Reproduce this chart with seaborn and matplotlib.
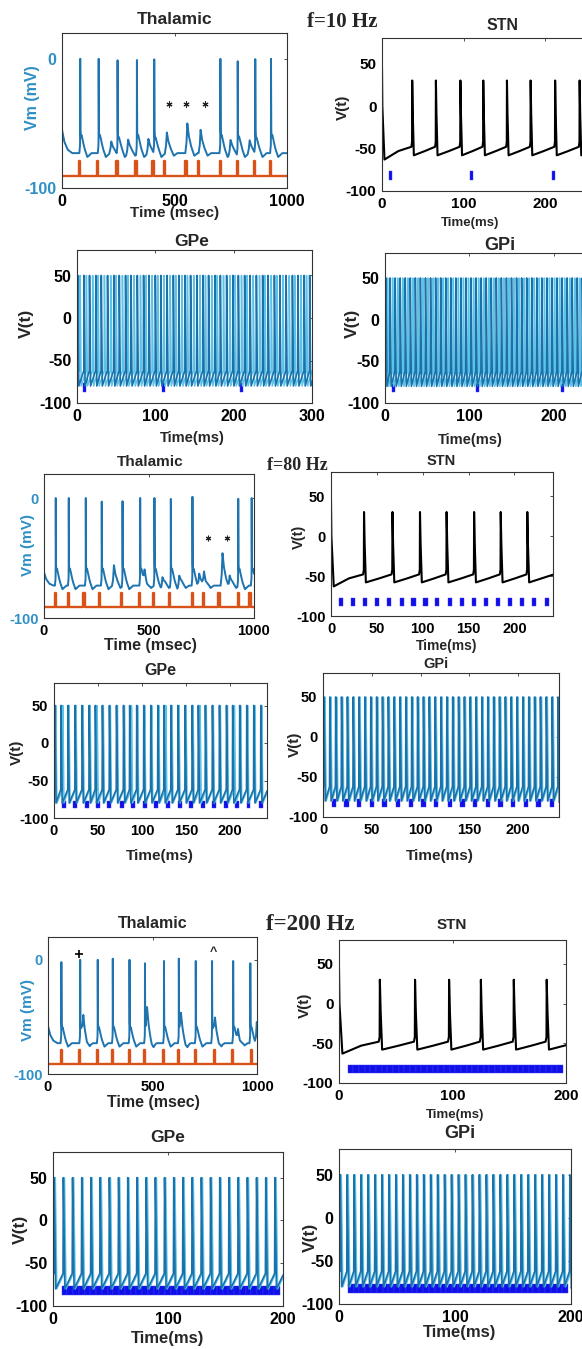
import numpy as np
import matplotlib
matplotlib.use("Agg")
import matplotlib.pyplot as plt
import seaborn as sns

# ---------------- DATA ----------------
# f = 10 Hz
thal10_spike_t = [81, 163, 247, 333, 410, 704, 781, 859, 929]
thal10_spike_v = [0, 0, 0, 0, 0, 0, 0, 0, 0]
thal10_bump_t = [215, 290, 380, 462, 553, 612, 745, 830]
thal10_bump_v = [-64, -62, -62, -57, -50, -55, -62, -63]
thal10_pulse_t = [77, 159, 244, 329, 404, 456, 551, 607, 704, 781, 856, 926]
thal10_star_t = [474, 550, 636]
stn10_spike_t = [37, 66, 96, 124, 153, 182, 212, 242, 271]
stim10_t = [10, 110, 210]
gpe10_spike_a = [1, 9, 16, 24, 31, 39, 47, 54, 62, 69, 77, 85, 92, 100, 107, 115, 123, 130, 138,
                 145, 153, 161, 168, 176, 183, 191, 199, 206, 214, 221, 229, 237, 244, 252, 259,
                 267, 275, 282, 290, 297]
gpe10_spike_b = [4, 12, 20, 27, 35, 43, 50, 58, 65, 73, 81, 88, 96, 103, 111, 119, 126, 134, 141,
                 149, 157, 164, 172, 179, 187, 195, 202, 210, 217, 225, 233, 240, 248, 255, 263,
                 271, 278, 286, 293]
gpi10_spike_a = [1, 6, 12, 18, 24, 30, 36, 42, 48, 54, 60, 66, 72, 78, 84, 90, 96, 102, 108, 114,
                 120, 126, 132, 138, 144, 150, 156, 162, 168, 174, 180, 186, 192, 198, 204, 210,
                 216, 222, 228, 234, 240, 246, 252]
gpi10_spike_b = [3, 9, 15, 21, 27, 33, 39, 45, 51, 57, 63, 69, 75, 81, 87, 93, 99, 105, 111, 117,
                 123, 129, 135, 141, 147, 153, 159, 165, 171, 177, 183, 189, 195, 201, 207, 213,
                 219, 225, 231, 237, 243, 249]

# f = 80 Hz
thal80_spike_t = [56, 118, 199, 275, 374, 458, 526, 604, 707, 925, 989]
thal80_spike_v = [0, 0, 0, -3, -2, 0, 0, 0, 1, 0, 0]
thal80_bump_t = [329, 475, 560, 640, 735, 758, 846, 880]
thal80_bump_v = [-56, -62, -64, -63, -60, -62, -46, -63]
thal80_pulse_t = [56, 118, 191, 266, 369, 456, 523, 599, 707, 758, 833, 925, 981]
thal80_star_t = [782, 870]
stn80_spike_t = [36, 67, 97, 126, 156, 185, 214]
stim80_t = [11, 24, 37, 50, 63, 77, 90, 103, 116, 130, 143, 156, 169, 182, 195, 208, 221, 235]
gpe80_spike_a = [1, 8, 16, 24, 32, 40, 47, 55, 63, 71, 79, 86, 94, 102, 110, 118, 125, 133, 141,
                 149, 157, 164, 172, 180, 188, 196, 203, 211, 219, 227, 235]
gpe80_spike_b = [2, 10, 17, 25, 33, 41, 49, 56, 64, 72, 80, 88, 95, 103, 111, 119, 127, 134, 142,
                 150, 158, 166, 173, 181, 189, 197, 205, 212, 220, 228, 236]
gpi80_spike_a = [1, 7, 13, 19, 25, 31, 37, 43, 49, 55, 61, 67, 73, 79, 85, 91, 97, 103, 109, 115,
                 121, 127, 133, 139, 145, 151, 157, 163, 169, 175, 181, 187, 193, 199, 205, 211,
                 217, 223, 229, 235, 241]
gpi80_spike_b = [2, 8, 14, 20, 26, 32, 38, 44, 50, 56, 62, 68, 74, 80, 86, 92, 98, 104, 110, 116,
                 122, 128, 134, 140, 146, 152, 158, 164, 170, 176, 182, 188, 194, 200, 206, 212,
                 218, 224, 230, 236]

# f = 200 Hz
thal200_spike_t = [64, 154, 238, 310, 390, 464, 555, 626, 707, 785, 886, 968]
thal200_spike_v = [-2, 0, 0, 1, 0, -3, -1, 1, -1, -1, -1, -3]
thal200_bump_t = [165, 470, 632, 795, 905, 995]
thal200_bump_v = [-55, -52, -57, -58, -62, -52]
thal200_pulse_t = [64, 150, 238, 310, 390, 461, 552, 626, 707, 798, 881, 973]
thal200_plus = (150, 5)
thal200_caret = (790, 7)
stn200_spike_t = [36, 67, 97, 125, 154, 183]
stim200_t = [10, 15, 20, 25, 30, 35, 40, 45, 50, 55, 60, 65, 70, 75, 80, 85, 90, 95, 100, 105,
             110, 115, 120, 125, 130, 135, 140, 145, 150, 155, 160, 165, 170, 175, 180, 185, 190,
             195]
gpe200_spike_a = [1, 9, 17, 25, 33, 41, 49, 57, 65, 73, 81, 89, 97, 105, 113, 121, 129, 137, 145,
                  153, 161, 169, 177, 185, 193]
gpe200_spike_b = [2, 10, 18, 26, 34, 42, 50, 58, 66, 74, 82, 90, 98, 106, 114, 122, 130, 138, 146,
                  154, 162, 170, 178, 186, 194]
gpi200_spike_a = [1, 7, 13, 19, 25, 31, 37, 43, 49, 55, 61, 67, 73, 79, 85, 91, 97, 103, 109, 115,
                  121, 127, 133, 139, 145, 151, 157, 163, 169, 175, 181, 187, 193, 199]
gpi200_spike_b = [2, 8, 14, 20, 26, 32, 38, 44, 50, 56, 62, 68, 74, 80, 86, 92, 98, 104, 110, 116,
                  122, 128, 134, 140, 146, 152, 158, 164, 170, 176, 182, 188, 194]

freq_labels = ["f=10 Hz", "f=80 Hz", "f=200 Hz"]

# ---------------- STYLE ----------------
sns.set_style("white")
plt.rcParams["font.family"] = ["Liberation Sans", "DejaVu Sans"]
plt.rcParams["font.weight"] = "bold"
plt.rcParams["axes.labelweight"] = "bold"
plt.rcParams["axes.titleweight"] = "bold"

W, H = 582, 1349
fig = plt.figure(figsize=(W / 100, H / 100), dpi=100)
fig.patch.set_facecolor("white")

TH_BLUE = "#1f74b0"
TH_LABEL = "#2f90c6"
ORANGE = "#D95319"
GP_DARK = "#1b72aa"
GP_LIGHT = "#59c3ea"
STIM = "#1010e6"


def add_ax(l, r, t, b):
    return fig.add_axes([l / W, 1 - b / H, (r - l) / W, (b - t) / H])


def ftext(x, y, s, **kw):
    fig.text(x / W, 1 - y / H, s, ha="center", va="center", **kw)


def style_ax(ax, xlim, ylim, xticks, yticks, ycolor="black", fs=10.5):
    ax.set_xlim(*xlim)
    ax.set_ylim(*ylim)
    ax.set_xticks(xticks)
    ax.set_yticks(yticks)
    ax.set_xticklabels([str(v) for v in xticks])
    ax.set_yticklabels([str(v) for v in yticks])
    ax.tick_params(direction="in", length=2.5, width=0.6, top=True, right=True,
                   labelsize=fs, pad=4, colors="#333333")
    ax.tick_params(axis="x", labelcolor="black")
    ax.tick_params(axis="y", labelcolor=ycolor)
    for sp in ax.spines.values():
        sp.set_color("#333333")
        sp.set_linewidth(0.8)
        sp.set_visible(True)
    ax.set_xlabel("")
    ax.set_ylabel("")


def line(ax, x, y, color, lw):
    sns.lineplot(x=np.asarray(x, float), y=np.asarray(y, float), ax=ax, color=color,
                 linewidth=lw, estimator=None, sort=False, legend=False)


def stim_bars(ax, stim_t, stim_w):
    ax.bar(stim_t, 10, bottom=-87, width=stim_w, color=STIM, align="center",
           edgecolor="#3a3aff", linewidth=0.3)


def thal_panel(ax, spike_t, spike_v, bump_t, bump_v, pulse_t, start_v, fs=10.5):
    base = -73.0
    t = np.arange(0, 1000.01, 0.25)
    v = np.full_like(t, base)
    kt = np.array([-4, -1, -0.4, 0, 0.8, 2.5, 6, 12, 20, 32, 50])
    for s, p in zip(spike_t, spike_v):
        kd = [0, 6, 15, p - base, 20, 13, 14, 9, 3, -3, 0]
        v += np.interp(t, s + kt, kd, left=0, right=0)
    bt = np.array([-5, 0, 4, 10, 20, 35, 50])
    for s, p in zip(bump_t, bump_v):
        a = p - base
        v += np.interp(t, s + bt, [0, a * 0.3, a, a * 0.6, a * 0.25, -2, 0], left=0, right=0)
    v += np.interp(t, [0, 10, 25, 45], [start_v - base, (start_v - base) * 0.5,
                                        (start_v - base) * 0.15, 0], left=0, right=0)
    line(ax, t, v, TH_BLUE, 1.4)
    w = 6
    px, py = [0], [-91]
    for p in pulse_t:
        px += [p - w / 2, p - w / 2, p + w / 2, p + w / 2]
        py += [-91, -79, -79, -91]
    px.append(1000)
    py.append(-91)
    line(ax, px, py, ORANGE, 1.7)
    style_ax(ax, (0, 1000), (-100, 20), [0, 500, 1000], [-100, 0], ycolor=TH_LABEL, fs=fs)


def stn_panel(ax, spike_t, xmax, stim_t, stim_w, xticks, fs=10.5):
    xs = [0, 0.4, 3]
    ys = [45, 0, -63]
    prev = 3
    for s in spike_t:
        xs += [prev + (s - prev) * 0.5, s - 1.0, s - 0.2, s, s + 0.7, s + 2]
        ys += [-53, -48, -42, 30, -10, -58]
        prev = s + 2
    xs += [xmax]
    ys += [-58 + 10 * min(1, (xmax - prev) / 27)]
    line(ax, xs, ys, "black", 1.5)
    stim_bars(ax, stim_t, stim_w)
    style_ax(ax, (0, xmax), (-100, 80), xticks, [-100, -50, 0, 50], fs=fs)


def gp_trace(ax, spikes, xmax, color, lw):
    xs = [0]
    ys = [-62]
    for s in spikes:
        xs += [s - 0.3, s, s + 1.3]
        ys += [-62, 50, -80]
    per = spikes[-1] - spikes[-2]
    xs.append(xmax)
    ys.append(-80 + 18 * min(1, (xmax - spikes[-1] - 1.3) / (per - 1.6)))
    line(ax, xs, ys, color, lw)


def gp_panel(ax, sp_a, sp_b, xmax, stim_t, stim_w, xticks, fs=10.5):
    gp_trace(ax, sp_b, xmax, GP_LIGHT, 1.1)
    gp_trace(ax, sp_a, xmax, GP_DARK, 1.2)
    stim_bars(ax, stim_t, stim_w)
    style_ax(ax, (0, xmax), (-100, 80), xticks, [-100, -50, 0, 50], fs=fs)


TFS, XFS, YFS = 11.5, 10.5, 11

# ---------------- f = 10 Hz ----------------
ax = add_ax(62, 287, 33, 188)
thal_panel(ax, thal10_spike_t, thal10_spike_v, thal10_bump_t, thal10_bump_v, thal10_pulse_t, -55,
           fs=11.5)
sns.scatterplot(x=thal10_star_t, y=[-35] * len(thal10_star_t), ax=ax, marker=(6, 2, 0), s=14,
                color="#222222", linewidth=0.8, legend=False)
ftext(175, 20, "Thalamic", fontsize=12.5)
ftext(175, 213, "Time (msec)", fontsize=XFS + 0.5)
ftext(32, 98, "Vm (mV)", fontsize=YFS + 0.5, rotation=90, color=TH_LABEL)

ax = add_ax(382, 627, 38, 191)
stn_panel(ax, stn10_spike_t, 300, stim10_t, 3.5, [0, 100, 200], fs=11)
ftext(503, 25, "STN", fontsize=TFS)
ftext(342, 22, freq_labels[0], fontsize=15, family=["Liberation Serif"])
ftext(470, 223, "Time(ms)", fontsize=XFS - 1)
ftext(343, 107, "V(t)", fontsize=YFS, rotation=90)

ax = add_ax(77, 312, 250, 403)
gp_panel(ax, gpe10_spike_a, gpe10_spike_b, 300, stim10_t, 3.5, [0, 100, 200, 300], fs=11.5)
ftext(192, 242, "GPe", fontsize=TFS + 1)
ftext(192, 438, "Time(ms)", fontsize=XFS)
ftext(26, 323, "V(t)", fontsize=YFS + 1.5, rotation=90)

ax = add_ax(385, 638, 253, 403)
gp_panel(ax, gpi10_spike_a, gpi10_spike_b, 300, stim10_t, 3.5, [0, 100, 200], fs=11.5)
ftext(500, 245, "GPi", fontsize=TFS + 1.5)
ftext(470, 440, "Time(ms)", fontsize=XFS)
ftext(352, 323, "V(t)", fontsize=YFS + 1.5, rotation=90)

# ---------------- f = 80 Hz ----------------
ax = add_ax(44, 254, 474, 618)
thal_panel(ax, thal80_spike_t, thal80_spike_v, thal80_bump_t, thal80_bump_v, thal80_pulse_t, -62)
sns.scatterplot(x=thal80_star_t, y=[-33] * len(thal80_star_t), ax=ax, marker=(6, 2, 0), s=12,
                color="#222222", linewidth=0.8, legend=False)
ftext(150, 462, "Thalamic", fontsize=TFS - 0.5)
ftext(150, 645, "Time (msec)", fontsize=XFS + 1)
ftext(28, 545, "Vm (mV)", fontsize=YFS, rotation=90, color=TH_LABEL)

ax = add_ax(331, 553, 472, 616)
stn_panel(ax, stn80_spike_t, 242, stim80_t, 4.5, [0, 50, 100, 150, 200])
ftext(441, 461, "STN", fontsize=TFS - 1)
ftext(297, 465, freq_labels[1], fontsize=13, family=["Liberation Serif"])
ftext(447, 646, "Time(ms)", fontsize=XFS - 0.5)
ftext(299, 537, "V(t)", fontsize=YFS - 0.5, rotation=90)

ax = add_ax(54, 267, 683, 818)
gp_panel(ax, gpe80_spike_a, gpe80_spike_b, 242, stim80_t, 4.5, [0, 50, 100, 150, 200])
ftext(160, 671, "GPe", fontsize=TFS)
ftext(160, 856, "Time(ms)", fontsize=XFS + 0.5)
ftext(17, 752, "V(t)", fontsize=YFS, rotation=90)

ax = add_ax(323, 559, 673, 817)
gp_panel(ax, gpi80_spike_a, gpi80_spike_b, 242, stim80_t, 4.5, [0, 50, 100, 150, 200])
ftext(436, 664, "GPi", fontsize=TFS - 1)
ftext(440, 856, "Time(ms)", fontsize=XFS + 0.5)
ftext(295, 744, "V(t)", fontsize=YFS, rotation=90)

# ---------------- f = 200 Hz ----------------
ax = add_ax(48, 257, 937, 1074)
thal_panel(ax, thal200_spike_t, thal200_spike_v, thal200_bump_t, thal200_bump_v,
           thal200_pulse_t, -58)
sns.scatterplot(x=[thal200_plus[0]], y=[thal200_plus[1]], ax=ax, marker="+", s=30,
                color="black", linewidth=1.2, legend=False)
ax.text(thal200_caret[0], thal200_caret[1], "^", ha="center", va="center", fontsize=9)
ftext(153, 924, "Thalamic", fontsize=TFS)
ftext(153, 1103, "Time (msec)", fontsize=XFS + 1)
ftext(28, 1010, "Vm (mV)", fontsize=YFS, rotation=90, color=TH_LABEL)

ax = add_ax(339, 566, 940, 1083)
stn_panel(ax, stn200_spike_t, 200, stim200_t, 5, [0, 100, 200], fs=11)
ftext(452, 925, "STN", fontsize=TFS - 0.5)
ftext(310, 925, freq_labels[2], fontsize=16.5, family=["Liberation Serif"])
ftext(455, 1115, "Time(ms)", fontsize=XFS - 1)
ftext(305, 1005, "V(t)", fontsize=YFS, rotation=90)

ax = add_ax(53, 283, 1152, 1306)
gp_panel(ax, gpe200_spike_a, gpe200_spike_b, 200, stim200_t, 5, [0, 100, 200], fs=11.5)
ftext(168, 1138, "GPe", fontsize=TFS + 1)
ftext(168, 1338, "Time(ms)", fontsize=XFS + 1.5)
ftext(20, 1229, "V(t)", fontsize=YFS + 1.5, rotation=90)

ax = add_ax(339, 571, 1149, 1304)
gp_panel(ax, gpi200_spike_a, gpi200_spike_b, 200, stim200_t, 5, [0, 100, 200], fs=11.5)
ftext(460, 1133, "GPi", fontsize=TFS + 1.5)
ftext(460, 1332, "Time(ms)", fontsize=XFS + 1.5)
ftext(310, 1237, "V(t)", fontsize=YFS + 1.5, rotation=90)

fig.savefig("out.png", dpi=100, facecolor="white")
